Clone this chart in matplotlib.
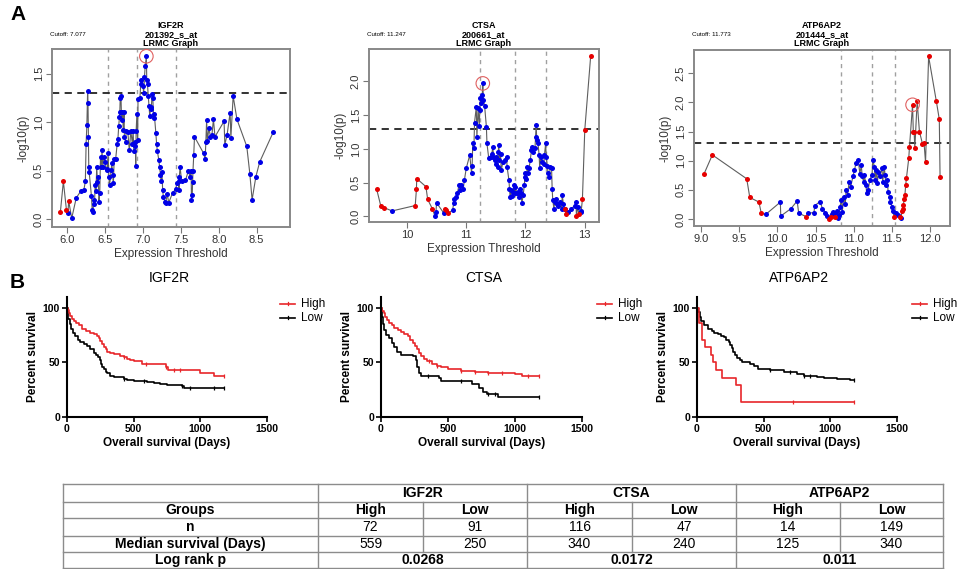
import numpy as np
import matplotlib
matplotlib.use("Agg")
import matplotlib.pyplot as plt
from matplotlib.lines import Line2D

plt.rcParams['font.family'] = ['Liberation Sans', 'DejaVu Sans']

# ---- LRMC data (panel A) ----
igf2r_x = [5.91, 5.95, 5.99, 6.01, 6.02, 6.06, 6.12, 6.18, 6.22, 6.24, 6.25, 6.26, 6.27, 6.275, 6.28,
           6.285, 6.29, 6.32, 6.33, 6.34, 6.35, 6.36, 6.37, 6.38, 6.39, 6.40, 6.41, 6.42, 6.43, 6.44,
           6.45, 6.46, 6.47, 6.48, 6.50, 6.52, 6.53, 6.54, 6.55, 6.56, 6.58, 6.59, 6.60, 6.61, 6.62,
           6.64, 6.66, 6.67, 6.68, 6.69, 6.695, 6.70, 6.71, 6.715, 6.72, 6.73, 6.74, 6.75, 6.755, 6.77,
           6.78, 6.80, 6.82, 6.84, 6.86, 6.87, 6.88, 6.89, 6.90, 6.905, 6.91, 6.92, 6.93, 6.935, 6.96,
           6.97, 6.98, 7.00, 7.01, 7.02, 7.03, 7.045, 7.05, 7.06, 7.07, 7.08, 7.09, 7.10, 7.11, 7.12,
           7.13, 7.14, 7.15, 7.17, 7.18, 7.19, 7.21, 7.22, 7.23, 7.24, 7.25, 7.26, 7.27, 7.29, 7.30,
           7.32, 7.34, 7.39, 7.43, 7.45, 7.47, 7.475, 7.48, 7.49, 7.51, 7.56, 7.60, 7.62, 7.635, 7.64,
           7.65, 7.655, 7.66, 7.67, 7.68, 7.80, 7.82, 7.83, 7.84, 7.85, 7.87, 7.89, 7.91, 7.93, 7.95,
           8.07, 8.08, 8.11, 8.15, 8.16, 8.19, 8.24, 8.37, 8.41, 8.44, 8.49, 8.54, 8.72]
igf2r_y = [0.07, 0.39, 0.10, 0.06, 0.19, 0.01, 0.22, 0.29, 0.30, 0.39, 0.78, 0.97, 1.32, 1.20, 0.85,
           0.54, 0.49, 0.24, 0.10, 0.07, 0.20, 0.16, 0.35, 0.29, 0.54, 0.38, 0.44, 0.18, 0.27, 0.64,
           0.54, 0.71, 0.54, 0.64, 0.59, 0.51, 0.52, 0.68, 0.44, 0.35, 0.51, 0.58, 0.46, 0.37, 0.62,
           0.62, 0.78, 0.83, 0.96, 1.05, 1.11, 1.25, 1.27, 1.11, 1.02, 1.11, 0.92, 1.11, 0.85, 0.80,
           0.91, 0.90, 0.71, 0.91, 0.78, 0.91, 0.70, 0.80, 0.75, 0.55, 0.91, 1.08, 0.82, 1.24, 1.25,
           1.39, 1.44, 1.37, 1.30, 1.47, 1.58, 1.68, 1.44, 1.39, 1.27, 1.17, 1.06, 1.16, 1.14, 1.29,
           1.25, 1.04, 1.08, 0.89, 0.78, 0.70, 0.61, 0.54, 0.46, 0.39, 0.49, 0.30, 0.23, 0.18, 0.17,
           0.26, 0.17, 0.27, 0.31, 0.37, 0.39, 0.30, 0.44, 0.54, 0.39, 0.40, 0.50, 0.44, 0.50, 0.20,
           0.25, 0.38, 0.50, 0.66, 0.85, 0.68, 0.62, 0.80, 1.02, 0.81, 0.94, 0.85, 0.87, 1.03, 0.85,
           1.01, 0.77, 0.87, 1.10, 0.84, 1.27, 1.03, 0.75, 0.47, 0.20, 0.44, 0.59, 0.90]
igf2r_red_x = [5.91, 5.95, 5.99, 6.02]
igf2r_lines = [6.54, 6.92, 7.44]

ctsa_x = [9.49, 9.56, 9.61, 9.75, 10.14, 10.16, 10.165, 10.32, 10.35, 10.43, 10.47, 10.49, 10.50,
          10.62, 10.64, 10.66, 10.70, 10.77, 10.79, 10.80, 10.83, 10.85, 10.88, 10.90, 10.92, 10.95,
          10.97, 11.00, 11.06, 11.09, 11.10, 11.11, 11.13, 11.14, 11.17, 11.18, 11.20, 11.22, 11.23,
          11.24, 11.25, 11.27, 11.28, 11.29, 11.31, 11.34, 11.35, 11.38, 11.41, 11.43, 11.45, 11.46,
          11.48, 11.50, 11.51, 11.53, 11.54, 11.55, 11.56, 11.58, 11.59, 11.62, 11.65, 11.68, 11.69,
          11.72, 11.73, 11.74, 11.76, 11.78, 11.79, 11.81, 11.82, 11.83, 11.85, 11.87, 11.89, 11.90,
          11.92, 11.94, 11.96, 11.98, 11.99, 12.00, 12.01, 12.03, 12.04, 12.06, 12.08, 12.10, 12.11,
          12.13, 12.16, 12.17, 12.18, 12.19, 12.21, 12.23, 12.24, 12.26, 12.28, 12.31, 12.32, 12.34,
          12.35, 12.37, 12.38, 12.40, 12.42, 12.44, 12.45, 12.46, 12.48, 12.49, 12.51, 12.53, 12.55,
          12.58, 12.61, 12.62, 12.64, 12.66, 12.67, 12.68, 12.72, 12.77, 12.83, 12.85, 12.86, 12.88,
          12.90, 12.93, 12.94, 12.96, 13.00, 13.10]
ctsa_y = [0.40, 0.15, 0.13, 0.08, 0.16, 0.40, 0.56, 0.44, 0.25, 0.11, 0.01, 0.07, 0.20,
          0.05, 0.11, 0.10, 0.05, 0.09, 0.20, 0.25, 0.29, 0.34, 0.47, 0.39, 0.46, 0.41,
          0.54, 0.71, 0.91, 0.64, 0.75, 1.08, 1.01, 1.39, 1.62, 1.17, 1.60, 1.34, 1.58,
          1.75, 1.68, 1.80, 1.97, 1.73, 1.64, 1.33, 1.08, 0.86, 0.88, 0.92, 1.03, 0.88,
          0.83, 0.78, 0.88, 0.73, 0.96, 1.06, 0.83, 0.93, 0.68, 0.81, 0.83, 0.88, 0.73,
          0.54, 0.41, 0.29, 0.39, 0.30, 0.36, 0.46, 0.34, 0.44, 0.35, 0.36, 0.29, 0.41,
          0.34, 0.20, 0.31, 0.46, 0.59, 0.64, 0.55, 0.73, 0.64, 0.71, 0.83, 0.98, 1.03,
          0.96, 1.01, 1.18, 1.35, 1.13, 1.09, 0.91, 0.71, 0.88, 0.81, 0.78, 0.91, 1.08,
          0.88, 0.74, 0.64, 0.59, 0.73, 0.71, 0.40, 0.24, 0.11, 0.21, 0.25, 0.19, 0.15,
          0.21, 0.11, 0.31, 0.18, 0.11, 0.11, 0.04, 0.06, 0.11, 0.16, 0.21, 0.01, 0.14,
          0.04, 0.06, 0.08, 0.25, 1.28, 2.38]
ctsa_red_x = [9.49, 9.56, 9.61, 10.14, 10.16, 10.165, 10.32, 10.35, 10.43, 10.64, 10.66, 10.70,
              12.67, 12.68, 12.86, 12.90, 12.96, 13.00, 13.10]
ctsa_lines = [11.23, 11.83, 12.34]

atp_x = [9.04, 9.15, 9.60, 9.64, 9.76, 9.79, 9.85, 10.04, 10.045, 10.18, 10.26, 10.28, 10.38,
         10.40, 10.48, 10.49, 10.56, 10.59, 10.63, 10.65, 10.68, 10.70, 10.71, 10.73, 10.75, 10.76,
         10.78, 10.80, 10.81, 10.82, 10.84, 10.85, 10.87, 10.89, 10.90, 10.92, 10.94, 10.96, 10.99,
         11.01, 11.03, 11.06, 11.08, 11.10, 11.11, 11.13, 11.14, 11.16, 11.17, 11.19, 11.21, 11.24,
         11.25, 11.27, 11.28, 11.29, 11.31, 11.32, 11.34, 11.37, 11.38, 11.40, 11.41, 11.42, 11.44,
         11.45, 11.47, 11.48, 11.50, 11.51, 11.53, 11.55, 11.58, 11.60, 11.62, 11.63, 11.64, 11.65,
         11.66, 11.67, 11.68, 11.69, 11.72, 11.73, 11.77, 11.78, 11.79, 11.80, 11.83, 11.86, 11.90,
         11.92, 11.94, 11.98, 12.08, 12.12, 12.13]
atp_y = [0.77, 1.10, 0.69, 0.37, 0.29, 0.10, 0.08, 0.29, 0.05, 0.18, 0.31, 0.10, 0.04,
         0.10, 0.11, 0.23, 0.30, 0.18, 0.11, 0.06, 0.00, 0.03, 0.08, 0.12, 0.04, 0.10,
         0.14, 0.02, 0.07, 0.21, 0.33, 0.12, 0.38, 0.25, 0.50, 0.42, 0.64, 0.55, 0.73,
         0.84, 0.96, 1.01, 0.78, 0.92, 0.73, 0.64, 0.76, 0.58, 0.44, 0.50, 0.67, 0.76,
         1.02, 0.90, 0.67, 0.84, 0.61, 0.81, 0.73, 0.87, 0.64, 0.90, 0.76, 0.58, 0.67,
         0.47, 0.38, 0.30, 0.21, 0.13, 0.04, 0.11, 0.07, 0.03, 0.01, 0.13, 0.18, 0.24,
         0.34, 0.41, 0.58, 0.70, 1.04, 1.24, 1.96, 1.49, 1.50, 1.22, 2.02, 1.50, 1.29,
         1.31, 0.97, 2.79, 2.03, 1.71, 0.72]
atp_red_x = [9.04, 9.15, 9.60, 9.64, 9.76, 9.79, 10.38, 10.68, 10.70, 10.75, 11.53, 11.60,
             11.63, 11.64, 11.65, 11.66, 11.67, 11.68, 11.69, 11.72, 11.73, 11.77, 11.78, 11.79,
             11.80, 11.83, 11.86, 11.90, 11.92, 11.94, 11.98, 12.08, 12.12, 12.13]
atp_lines = [10.83, 11.24, 11.54]

# ---- Kaplan-Meier data (panel B), survival in % ----
igf2r_hi_t = [0, 5, 15, 25, 40, 55, 70, 90, 112, 140, 175, 200, 225, 240, 250, 262, 275, 290, 300,
              320, 350, 400, 425, 450, 475, 500, 562, 740, 760, 1000, 1100, 1180]
igf2r_hi_s = [100, 98, 95, 93, 90, 88, 86, 84, 81, 79, 77, 76, 74, 72, 70, 67, 64, 62, 60, 59,
              57.5, 56, 55, 53, 52, 51, 49, 46, 43.5, 40, 38, 38]
igf2r_lo_t = [0, 5, 10, 20, 30, 45, 60, 80, 100, 130, 150, 175, 200, 215, 230, 245, 255, 265, 275,
              290, 300, 320, 350, 425, 450, 500, 600, 650, 700, 750, 860, 875, 1180]
igf2r_lo_s = [100, 95, 90, 85, 81, 77, 74, 71, 69, 67, 65, 62, 59, 57, 55, 52, 49, 46, 44, 41, 40,
              38, 37, 35, 34, 33, 32, 31, 30, 29, 28, 27, 27]
ctsa_hi_t = [0, 10, 20, 30, 45, 60, 80, 100, 125, 150, 175, 200, 220, 240, 255, 270, 285, 300, 320,
             340, 380, 420, 450, 500, 600, 700, 800, 1000, 1050, 1180]
ctsa_hi_s = [100, 97, 95, 92, 89, 86, 84, 82, 80, 78, 76, 74, 71, 68, 65, 62, 59, 56, 53, 51, 49,
             47, 46, 44, 42, 41, 40, 39, 37.5, 37.5]
ctsa_lo_t = [0, 8, 15, 25, 40, 60, 80, 100, 120, 150, 240, 260, 270, 285, 300, 430, 450, 600, 680,
             730, 760, 790, 870, 1180]
ctsa_lo_s = [100, 92, 85, 80, 75, 72, 68, 64, 60, 57, 56, 52, 46, 40, 38, 36, 33, 33, 30, 27, 23,
             21, 18, 18]
atp_hi_t = [0, 15, 40, 60, 105, 120, 140, 190, 290, 330, 1180]
atp_hi_s = [100, 86, 71, 64, 57, 50, 43, 36, 29, 14, 14]
atp_lo_t = [0, 10, 20, 30, 50, 80, 110, 130, 160, 180, 200, 220, 240, 250, 260, 270, 285, 300, 320,
            340, 400, 430, 460, 550, 650, 750, 800, 900, 950, 1050, 1150, 1180]
atp_lo_s = [100, 96, 92, 88, 84, 81, 79, 77, 76, 74, 73, 71, 69, 66, 63, 60, 57, 54, 52, 50, 49,
            47, 44, 43, 41, 39, 38, 37, 36, 35, 34, 34]
igf2r_hi_cens = [425, 590, 740, 800, 850, 1180]
igf2r_lo_cens = [430, 580, 860, 920, 1100, 1180]
ctsa_hi_cens = [360, 420, 600, 700, 800, 900, 1100, 1180]
ctsa_lo_cens = [350, 600, 800, 850, 1180]
atp_hi_cens = [720, 1180]
atp_lo_cens = [550, 700, 800, 850, 1180]

# ---- table ----
genes = ['IGF2R', 'CTSA', 'ATP6AP2']
row_names = ['Groups', 'n', 'Median survival (Days)', 'Log rank p']
n_high = [72, 116, 14]
n_low = [91, 47, 149]
median_high = [559, 340, 125]
median_low = [250, 240, 340]
logrank_p = ['0.0268', '0.0172', '0.011']

W, H = 964, 569
fig = plt.figure(figsize=(W / 100, H / 100), dpi=100)


def px_axes(l, t, r, b):
    return fig.add_axes([l / W, 1 - b / H, (r - l) / W, (b - t) / H])


def ftext(x, y, s, **kw):
    fig.text(x / W, 1 - y / H, s, **kw)


def fline(xs, ys, **kw):
    fig.add_artist(Line2D([v / W for v in xs], [1 - v / H for v in ys], **kw))


def lrmc(box, xlim, ylim, x, y, red_x, vlines, cutoff, gene, probe, xticks, yticks, xfmt):
    ax = px_axes(*box)
    x = np.array(x)
    y = np.array(y)
    red = np.isin(x, red_x)
    ax.plot(x, y, color='#5e5e5e', lw=0.8, zorder=2)
    ax.scatter(x[~red], y[~red], s=13, color='#0000e6', lw=0, zorder=3)
    ax.scatter(x[red], y[red], s=13, color='#e60000', lw=0, zorder=3)
    for v in vlines:
        ax.axvline(v, color='#a0a0a0', ls=(0, (3, 3)), lw=1, zorder=1)
    ax.axhline(-np.log10(0.05), color='#222222', ls=(0, (4, 3)), lw=1.3, zorder=1)
    near = np.abs(x - cutoff) < 0.05
    i = np.argmax(np.where(near, y, -1))
    ax.scatter([x[i]], [y[i]], s=95, facecolor='none', edgecolor='#e06060', lw=0.8, zorder=4)
    ax.set_xlim(*xlim)
    ax.set_ylim(*ylim)
    ax.set_xticks(xticks)
    ax.set_yticks(yticks)
    ax.set_xticklabels([xfmt.format(t) for t in xticks])
    ax.set_yticklabels([f'{t:.1f}' for t in yticks], rotation=90, va='center')
    ax.tick_params(labelsize=8, length=4, color='#777777', labelcolor='#333333', pad=2)
    for s in ax.spines.values():
        s.set_color('#888888')
        s.set_linewidth(1.4)
    ax.set_xlabel('Expression Threshold', fontsize=8.5, color='#333333', labelpad=2)
    ax.set_ylabel('-log10(p)', fontsize=8.5, color='#333333', labelpad=3)
    cx = (box[0] + box[2]) / 2
    ftext(cx, 48, f'{gene}\n{probe}\nLRMC Graph', ha='center', va='bottom', fontsize=6.5,
          fontweight='bold', linespacing=1.0)
    ftext(box[0] - 2, 34, f'Cutoff: {cutoff}', ha='left', va='center', fontsize=4.5)


lrmc((52, 49, 290, 227), (5.80, 8.94), (-0.08, 1.755), igf2r_x, igf2r_y, igf2r_red_x, igf2r_lines,
     7.077, 'IGF2R', '201392_s_at', [6.0, 6.5, 7.0, 7.5, 8.0, 8.5], [0.0, 0.5, 1.0, 1.5], '{:.1f}')
lrmc((369, 49, 599, 222), (9.36, 13.24), (-0.084, 2.48), ctsa_x, ctsa_y, ctsa_red_x, ctsa_lines,
     11.247, 'CTSA', '200661_at', [10, 11, 12, 13], [0.0, 0.5, 1.0, 1.5, 2.0], '{:.0f}')
lrmc((694, 50, 950, 226), (8.91, 12.26), (-0.12, 2.90), atp_x, atp_y, atp_red_x, atp_lines,
     11.773, 'ATP6AP2', '201444_s_at', [9.0, 9.5, 10.0, 10.5, 11.0, 11.5, 12.0],
     [0.0, 0.5, 1.0, 1.5, 2.0, 2.5], '{:.1f}')

ftext(10, 15, 'A', fontsize=15, fontweight='bold', va='center')
ftext(10, 282, 'B', fontsize=15, fontweight='bold', va='center')


def km(l, r, title, hi_t, hi_s, lo_t, lo_s, hi_c, lo_c, leg_x):
    ax = px_axes(l, 297, r, 417)
    for t, s, c, cens in ((lo_t, lo_s, 'black', lo_c), (hi_t, hi_s, '#e8262a', hi_c)):
        ax.step(t, s, where='post', color=c, lw=1.2)
        idx = np.searchsorted(t, cens, side='right') - 1
        ax.plot(cens, np.array(s)[idx], ls='none', marker='|', ms=3.5, mew=0.9, color=c)
    ax.set_xlim(0, 1500)
    ax.set_ylim(0, 110)
    ax.set_xticks([0, 500, 1000, 1500])
    ax.set_yticks([0, 50, 100])
    for s in ('top', 'right'):
        ax.spines[s].set_visible(False)
    for s in ('left', 'bottom'):
        ax.spines[s].set_linewidth(1.5)
    ax.tick_params(labelsize=7.5, length=3.5, width=1.2, pad=1.5)
    for lab in ax.get_xticklabels() + ax.get_yticklabels():
        lab.set_fontweight('bold')
    ax.set_xlabel('Overall survival (Days)', fontsize=8.5, fontweight='bold', labelpad=2)
    ax.set_ylabel('Percent survival', fontsize=8.5, fontweight='bold', labelpad=3)
    ftext((l + r) / 2 + 2, 278, title, ha='center', va='center', fontsize=10)
    for yy, name, c in ((304, 'High', '#e8262a'), (318, 'Low', 'black')):
        fline([leg_x, leg_x + 15], [yy, yy], color=c, lw=1.2)
        fline([leg_x + 7.5, leg_x + 7.5], [yy - 2, yy + 1], color=c, lw=0.9)
        ftext(leg_x + 21, yy, name, ha='left', va='center', fontsize=8.5)


km(67, 267, 'IGF2R', igf2r_hi_t, igf2r_hi_s, igf2r_lo_t, igf2r_lo_s, igf2r_hi_cens, igf2r_lo_cens, 280)
km(381, 582, 'CTSA', ctsa_hi_t, ctsa_hi_s, ctsa_lo_t, ctsa_lo_s, ctsa_hi_cens, ctsa_lo_cens, 597)
km(697, 897, 'ATP6AP2', atp_hi_t, atp_hi_s, atp_lo_t, atp_lo_s, atp_hi_cens, atp_lo_cens, 912)

# table
tfont = ['Liberation Sans Narrow', 'Liberation Sans', 'DejaVu Sans']
col_x = [63, 318, 423, 527, 632, 736, 840, 943]
row_y = [484, 502, 518, 536, 552, 568]
lc = '#8c8c8c'
for yy in row_y:
    fline([col_x[0], col_x[-1]], [yy, yy], color=lc, lw=1)
for xx in (col_x[0], col_x[1], col_x[3], col_x[5], col_x[7]):
    fline([xx, xx], [row_y[0], row_y[-1]], color=lc, lw=1)
for xx in (col_x[2], col_x[4], col_x[6]):
    fline([xx, xx], [row_y[1], row_y[4]], color=lc, lw=1)

fs = 10
row_c = [(row_y[i] + row_y[i + 1]) / 2 for i in range(5)]
for i, name in enumerate(row_names):
    ftext((col_x[0] + col_x[1]) / 2, row_c[i + 1], name, ha='center', va='center', fontsize=fs,
          fontweight='bold', family=tfont)
for g in range(3):
    a, m, b = col_x[1 + 2 * g], col_x[2 + 2 * g], col_x[3 + 2 * g]
    ftext((a + b) / 2, row_c[0], genes[g], ha='center', va='center', fontsize=fs,
          fontweight='bold', family=tfont)
    ftext((a + m) / 2, row_c[1], 'High', ha='center', va='center', fontsize=fs, fontweight='bold', family=tfont)
    ftext((m + b) / 2, row_c[1], 'Low', ha='center', va='center', fontsize=fs, fontweight='bold', family=tfont)
    ftext((a + m) / 2, row_c[2], str(n_high[g]), ha='center', va='center', fontsize=fs, family=tfont)
    ftext((m + b) / 2, row_c[2], str(n_low[g]), ha='center', va='center', fontsize=fs, family=tfont)
    ftext((a + m) / 2, row_c[3], str(median_high[g]), ha='center', va='center', fontsize=fs, family=tfont)
    ftext((m + b) / 2, row_c[3], str(median_low[g]), ha='center', va='center', fontsize=fs, family=tfont)
    ftext((a + b) / 2, row_c[4], logrank_p[g], ha='center', va='center', fontsize=fs,
          fontweight='bold', family=tfont)

fig.savefig('out.png', dpi=100)
